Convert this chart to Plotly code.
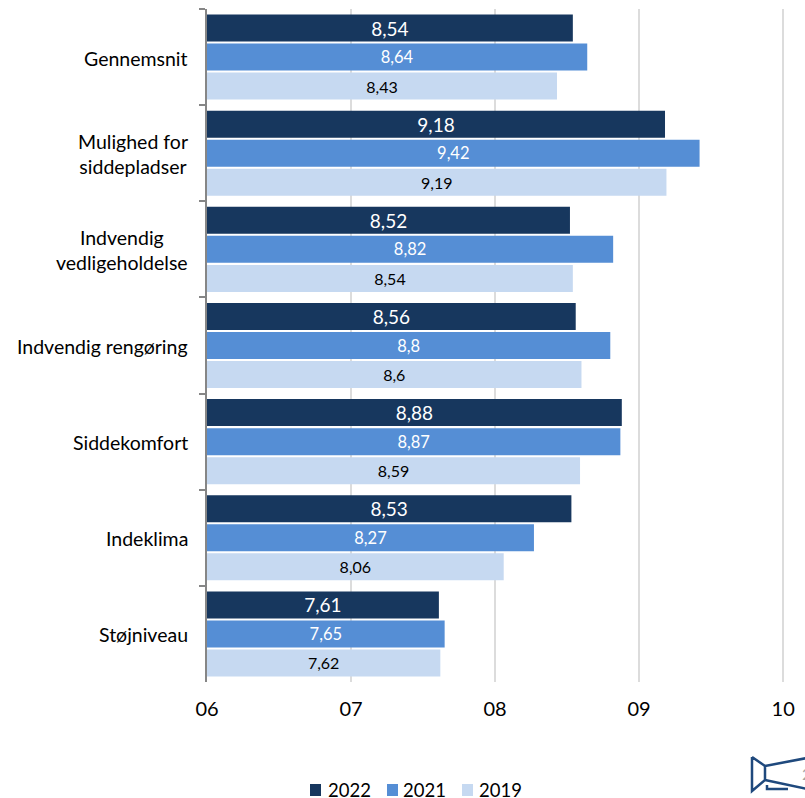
import plotly.graph_objects as go

categories = ["Gennemsnit", "Mulighed for<br>siddepladser", "Indvendig<br>vedligeholdelse",
              "Indvendig rengøring", "Siddekomfort", "Indeklima", "Støjniveau"]
values_2022 = [8.54, 9.18, 8.52, 8.56, 8.88, 8.53, 7.61]
values_2021 = [8.64, 9.42, 8.82, 8.80, 8.87, 8.27, 7.65]
values_2019 = [8.43, 9.19, 8.54, 8.60, 8.59, 8.06, 7.62]
x_ticks = [6, 7, 8, 9, 10]
x_tick_labels = ["06", "07", "08", "09", "10"]
axis_start = 6

FONT = "Lato, 'Open Sans', sans-serif"
WIDTH, HEIGHT = 805, 798
LEFT, RIGHT, TOP, BOTTOM = 207, 19, 9, 116
PLOT_W = WIDTH - LEFT - RIGHT
PLOT_H = HEIGHT - TOP - BOTTOM

series = [
    ("2022", values_2022, "#17375e", "white", 19),
    ("2021", values_2021, "#558ed5", "white", 16.5),
    ("2019", values_2019, "#c6d9f1", "black", 16),
]
key_swatch_left = [310, 387, 462]
key_text_left = [326, 401, 477]


def label(v):
    return f"{v:g}".replace(".", ",")


def paper_x(px):
    return (px - LEFT) / PLOT_W


def paper_y(py):
    return 1 - (py - TOP) / PLOT_H


def page_path(points):
    # Convert page pixel positions into paper fractions for a layout shape
    return " ".join(f"{cmd}{paper_x(px):.5f},{paper_y(py):.5f}" for cmd, px, py in points)


fig = go.Figure()
for name, vals, color, text_color, size in series:
    # Bars grow from the axis start, so each label centres on the visible bar
    fig.add_bar(
        y=categories, x=[v - axis_start for v in vals], base=axis_start, orientation="h",
        name=name, showlegend=False,
        marker=dict(color=color, line=dict(width=0)),
        text=[label(v) for v in vals], textposition="inside", insidetextanchor="middle",
        constraintext="none", textangle=0,
        textfont=dict(family=FONT, size=size, color=text_color),
    )

# Category names sit left of the axis, centred line by line
annotations = [
    dict(text=c, x=0, xref="paper", y=c, yref="y", xanchor="right", yanchor="middle",
         xshift=-17, yshift=-1, align="center", showarrow=False,
         font=dict(family=FONT, size=19.5, color="black"))
    for c in categories
]
# Page number beside the footer emblem
annotations.append(dict(text="2", x=paper_x(800), xref="paper", y=paper_y(773), yref="paper",
                        xanchor="left", yanchor="middle", showarrow=False,
                        font=dict(family=FONT, size=16, color="#a6a6a6")))

emblem = page_path([("M", 752, 757), ("L", 765, 766), ("L", 765, 780), ("L", 752, 791), ("L", 752, 757),
                    ("M", 765, 766), ("L", 807, 758), ("M", 765, 780), ("L", 807, 789),
                    ("M", 767, 785), ("L", 767, 789), ("L", 788, 789)])
shapes = [dict(type="path", path=emblem, xref="paper", yref="paper",
               line=dict(color="#1f497d", width=2.5), layer="above")]

# Year key below the axis: compact swatches with the year right beside them
for (name, _, color, _, _), swatch_left, text_left in zip(series, key_swatch_left, key_text_left):
    shapes.append(dict(type="rect", xref="paper", yref="paper",
                       x0=paper_x(swatch_left), x1=paper_x(swatch_left + 11),
                       y0=paper_y(784), y1=paper_y(796),
                       fillcolor=color, line=dict(width=0)))
    annotations.append(dict(text=name, x=paper_x(text_left), xref="paper", y=paper_y(790), yref="paper",
                            xanchor="left", yanchor="middle", showarrow=False,
                            font=dict(family=FONT, size=18.5, color="black")))

fig.update_layout(
    width=WIDTH, height=HEIGHT, autosize=False,
    margin=dict(l=LEFT, r=RIGHT, t=TOP, b=BOTTOM, pad=0),
    paper_bgcolor="white", plot_bgcolor="white", showlegend=False,
    barmode="group", bargap=0.094, bargroupgap=0.07,
    font=dict(family=FONT, size=18, color="black"),
    xaxis=dict(range=[axis_start, 10.02], tickvals=x_ticks, ticktext=x_tick_labels, showgrid=True,
               gridcolor="#dcdcdc", gridwidth=2, zeroline=False, showline=False, ticks="",
               ticklabelstandoff=13, tickfont=dict(family=FONT, size=20, color="black")),
    yaxis=dict(categoryorder="array", categoryarray=categories, autorange="reversed",
               showticklabels=False, showgrid=False, zeroline=False, showline=True,
               linecolor="#868686", linewidth=2, ticks="outside", ticklen=6, tickwidth=2,
               tickcolor="#868686", tickson="boundaries"),
    shapes=shapes,
    annotations=annotations,
)
fig.write_html("out.html")
